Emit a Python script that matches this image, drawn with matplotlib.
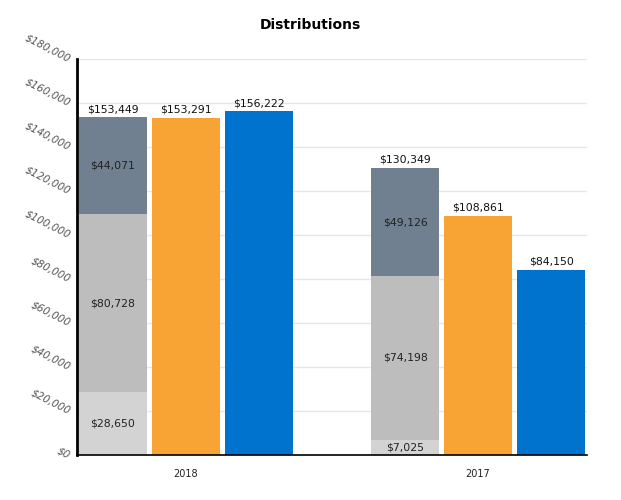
import matplotlib
matplotlib.use("Agg")
from matplotlib import pyplot as plt
from matplotlib.ticker import FuncFormatter
import numpy as np

years = ["2018", "2017"]
part_low = [28650, 7025]
part_mid = [80728, 74198]
part_top = [44071, 49126]
orange_vals = [153291, 108861]
blue_vals = [156222, 84150]

c_low = "#d3d3d3"
c_mid = "#bdbdbd"
c_top = "#708090"
c_orange = "#f8a435"
c_blue = "#0073cf"

fig = plt.figure(figsize=(6.21, 5.0), dpi=100)
ax = fig.add_axes([77 / 621, 45 / 500, 510 / 621, 396 / 500])

x = np.arange(len(years))
w = 0.233
step = 0.25

low = np.array(part_low)
mid = np.array(part_mid)
top = np.array(part_top)

ax.bar(x - step, low, w, color=c_low, zorder=2)
ax.bar(x - step, mid, w, bottom=low, color=c_mid, zorder=2)
ax.bar(x - step, top, w, bottom=low + mid, color=c_top, zorder=2)
ax.bar(x, orange_vals, w, color=c_orange, zorder=2)
ax.bar(x + step, blue_vals, w, color=c_blue, zorder=2)

fs = 7.8
money = lambda v: "${:,.0f}".format(v)
for i in range(len(years)):
    ax.text(x[i] - step, low[i] / 2, money(low[i]), ha="center", va="center", fontsize=fs, color="#222222", zorder=3)
    ax.text(x[i] - step, low[i] + mid[i] / 2, money(mid[i]), ha="center", va="center", fontsize=fs, color="#222222", zorder=3)
    ax.text(x[i] - step, low[i] + mid[i] + top[i] / 2, money(top[i]), ha="center", va="center", fontsize=fs, color="#222222", zorder=3)
    total = low[i] + mid[i] + top[i]
    ax.text(x[i] - step, total + 1500, money(total), ha="center", va="bottom", fontsize=fs, color="#111111", zorder=3)
    ax.text(x[i], orange_vals[i] + 1500, money(orange_vals[i]), ha="center", va="bottom", fontsize=fs, color="#111111", zorder=3)
    ax.text(x[i] + step, blue_vals[i] + 1500, money(blue_vals[i]), ha="center", va="bottom", fontsize=fs, color="#111111", zorder=3)

ax.set_xlim(-0.373, 1.373)
ax.set_ylim(0, 180000)
ax.set_yticks(np.arange(0, 180001, 20000))
ax.yaxis.set_major_formatter(FuncFormatter(lambda v, p: money(v)))
ax.set_xticks(x)
ax.set_xticklabels(years)
ax.tick_params(axis="x", length=0, labelsize=7, pad=10, colors="#222222")
ax.tick_params(axis="y", length=0, labelsize=7.5, pad=5, colors="#555555")
for lab in ax.get_yticklabels():
    lab.set_rotation(-27)
    lab.set_style("italic")
    lab.set_ha("right")
    lab.set_rotation_mode("anchor")

ax.grid(axis="y", color="#e6e6e6", linewidth=1, zorder=0)
for s in ["top", "right"]:
    ax.spines[s].set_visible(False)
ax.spines["left"].set_linewidth(2)
ax.spines["bottom"].set_linewidth(1.2)

fig.text(310 / 621, 1 - 25 / 500, "Distributions", ha="center", va="center", fontsize=10, fontweight="bold")

fig.savefig("out.png", dpi=100)
